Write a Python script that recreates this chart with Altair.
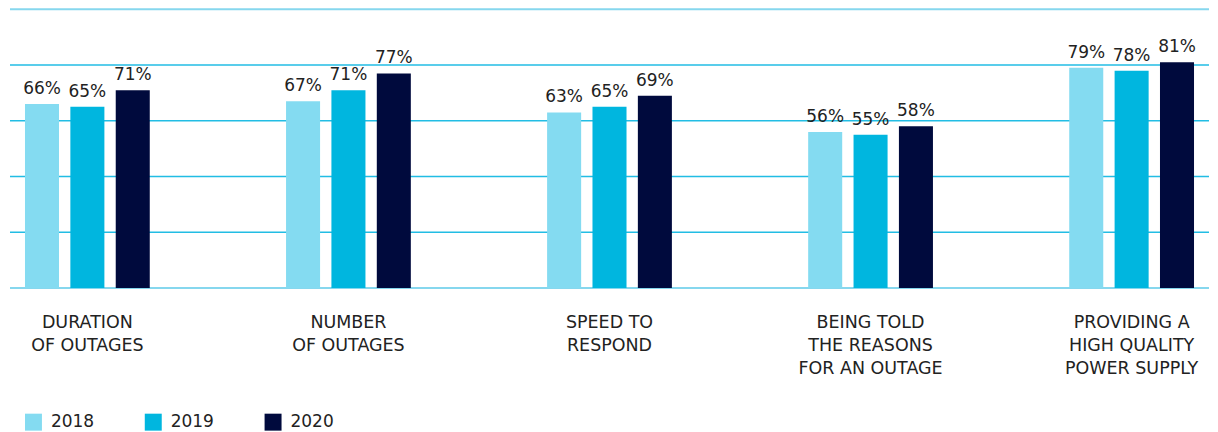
import altair as alt
import pandas as pd

categories = [
    "DURATION|OF OUTAGES",
    "NUMBER|OF OUTAGES",
    "SPEED TO|RESPOND",
    "BEING TOLD|THE REASONS|FOR AN OUTAGE",
    "PROVIDING A|HIGH QUALITY|POWER SUPPLY",
]
years = ["2018", "2019", "2020"]
v2018 = [66, 67, 63, 56, 79]
v2019 = [65, 71, 65, 55, 78]
v2020 = [71, 77, 69, 58, 81]
colors = ["#84dbf1", "#00b6df", "#000a3d"]
grid_values = [0, 20, 40, 60, 80, 100]
grid_kind = ["edge", "inner", "inner", "inner", "inner", "edge"]

rows = []
for i, c in enumerate(categories):
    for y, vals in zip(years, [v2018, v2019, v2020]):
        rows.append({"cat": c, "year": y, "value": vals[i], "label": f"{vals[i]}%"})
df = pd.DataFrame(rows)
grid_df = pd.DataFrame({"g": grid_values, "kind": grid_kind})

FONT = "DejaVu Sans"

x = alt.X(
    "cat:N",
    sort=categories,
    scale=alt.Scale(paddingInner=0.522, paddingOuter=0.0574, align=0.5),
    axis=alt.Axis(
        title=None,
        ticks=False,
        domain=False,
        grid=False,
        labelAngle=0,
        labelAlign="center",
        labelBaseline="top",
        labelPadding=26,
        labelFont=FONT,
        labelFontSize=17.5,
        labelColor="#222222",
        labelLineHeight=23,
        labelExpr="split(datum.label, '|')",
    ),
)
xoff = alt.XOffset("year:N", sort=years, scale=alt.Scale(paddingInner=0.25, paddingOuter=0))
yscale = alt.Scale(domain=[0, 100], nice=False)
y = alt.Y("value:Q", scale=yscale, axis=None)
color = alt.Color(
    "year:N",
    sort=years,
    scale=alt.Scale(domain=years, range=colors),
    legend=alt.Legend(
        title=None,
        orient="none",
        direction="horizontal",
        legendX=15,
        legendY=405,
        symbolType="square",
        symbolSize=289,
        symbolStrokeWidth=0,
        labelFont=FONT,
        labelFontSize=17,
        labelColor="#222222",
        labelOffset=9,
        columnPadding=50,
    ),
)

grid = alt.Chart(grid_df).mark_rule().encode(
    y=alt.Y("g:Q", scale=yscale, axis=None),
    stroke=alt.Stroke("kind:N", scale=alt.Scale(domain=["edge", "inner"], range=["#86d7ee", "#22bde4"]), legend=None),
    strokeWidth=alt.StrokeWidth("kind:N", scale=alt.Scale(domain=["edge", "inner"], range=[2, 1.5]), legend=None),
)
bars = alt.Chart(df).mark_bar().encode(x=x, xOffset=xoff, y=y, color=color)
text = alt.Chart(df).mark_text(
    baseline="bottom", dy=-6, font=FONT, fontSize=17, color="#222222"
).encode(x=x, xOffset=xoff, y=y, text="label:N")

chart = (
    alt.layer(grid, bars, text)
    .resolve_scale(stroke="independent")
    .properties(width=1201, height=279, padding={"left": 1, "top": 0, "right": 0, "bottom": 0})
    .configure_view(stroke=None)
)
chart.save("out.html", embed_options={"renderer": "svg", "actions": False})
